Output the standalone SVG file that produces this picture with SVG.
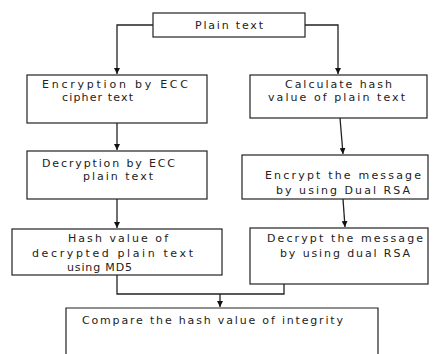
<svg xmlns="http://www.w3.org/2000/svg" width="433" height="354" viewBox="0 0 433 354">
<defs>
<marker id="ah" viewBox="0 0 10 10" refX="10" refY="5" markerWidth="6" markerHeight="6" markerUnits="userSpaceOnUse" orient="auto">
<path d="M0,0 L10,5 L0,10 z" fill="#111"/>
</marker>
<style>
.box{fill:#fff;stroke:#222;stroke-width:1.2}
.t{font-family:"DejaVu Sans",Verdana,sans-serif;font-size:11px;fill:#222}
.c{fill:none;stroke:#222;stroke-width:1.3}
</style>
</defs>
<rect width="433" height="354" fill="#fff"/>
<g id="connectors">
<polyline class="c" points="153,25 117,25 117,74" marker-end="url(#ah)"/>
<polyline class="c" points="305,25 338,25 338,74" marker-end="url(#ah)"/>
<line class="c" x1="117" y1="123" x2="117" y2="150" marker-end="url(#ah)"/>
<line class="c" x1="340" y1="118" x2="343" y2="154" marker-end="url(#ah)"/>
<line class="c" x1="117" y1="199" x2="117" y2="228" marker-end="url(#ah)"/>
<line class="c" x1="343" y1="199" x2="345" y2="227" marker-end="url(#ah)"/>
<polyline class="c" points="117,275 117,294 284,294 284,284"/>
<line class="c" x1="220" y1="294" x2="220" y2="307" marker-end="url(#ah)"/>
</g>
<g id="n-plain">
<rect class="box" x="153" y="13" width="152" height="24"/>
<text class="t" x="195" y="29" textLength="68" lengthAdjust="spacing">Plain text</text>
</g>
<g id="n-enc-ecc">
<rect class="box" x="27" y="75" width="180" height="48"/>
<text class="t" x="42" y="88" textLength="146" lengthAdjust="spacing">Encryption by ECC</text>
<text class="t" x="62" y="101" textLength="71" lengthAdjust="spacing">cipher text</text>
</g>
<g id="n-hash-calc">
<rect class="box" x="250" y="75" width="177" height="43"/>
<text class="t" x="285" y="88" textLength="107" lengthAdjust="spacing">Calculate hash</text>
<text class="t" x="268" y="101" textLength="137" lengthAdjust="spacing">value of plain text</text>
</g>
<g id="n-dec-ecc">
<rect class="box" x="27" y="151" width="180" height="48"/>
<text class="t" x="42" y="167" textLength="133" lengthAdjust="spacing">Decryption by ECC</text>
<text class="t" x="83" y="180" textLength="70" lengthAdjust="spacing">plain text</text>
</g>
<g id="n-enc-rsa">
<rect class="box" x="242" y="155" width="186" height="44"/>
<text class="t" x="265" y="179" textLength="156" lengthAdjust="spacing">Encrypt the message</text>
<text class="t" x="276" y="194" textLength="134" lengthAdjust="spacing">by using Dual RSA</text>
</g>
<g id="n-hash-md5">
<rect class="box" x="12" y="229" width="210" height="46"/>
<text class="t" x="68" y="242" textLength="100" lengthAdjust="spacing">Hash value of</text>
<text class="t" x="32" y="257" textLength="161" lengthAdjust="spacing">decrypted plain text</text>
<text class="t" x="67" y="271" textLength="65" lengthAdjust="spacing">using MD5</text>
</g>
<g id="n-dec-rsa">
<rect class="box" x="250" y="228" width="178" height="56"/>
<text class="t" x="267" y="242" textLength="156" lengthAdjust="spacing">Decrypt the message</text>
<text class="t" x="280" y="257" textLength="130" lengthAdjust="spacing">by using dual RSA</text>
</g>
<g id="n-compare">
<path class="box" d="M66,360 V308 H378 V360"/>
<text class="t" x="82" y="324" textLength="261" lengthAdjust="spacing">Compare the hash value of integrity</text>
</g>
</svg>
